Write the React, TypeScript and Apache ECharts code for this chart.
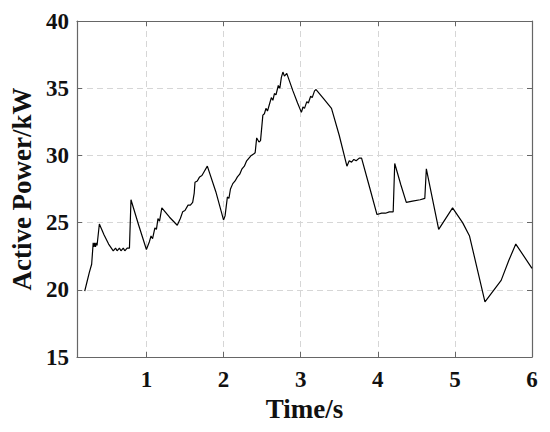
import React, { useEffect, useRef } from "react";
import * as echarts from "echarts";

const timeS: number[] = [
  0.20, 0.23, 0.26, 0.29, 0.31, 0.32, 0.33, 0.34, 0.35, 0.36, 0.39, 0.45, 0.51, 0.57,
  0.60, 0.62, 0.65, 0.67, 0.70, 0.72, 0.75, 0.78, 0.80, 0.90, 1.00, 1.04, 1.06, 1.08,
  1.11, 1.13, 1.15, 1.17, 1.20, 1.30, 1.40, 1.44, 1.47, 1.50, 1.54, 1.57, 1.60, 1.62,
  1.63, 1.66, 1.69, 1.72, 1.75, 1.79, 1.90, 2.00, 2.02, 2.05, 2.07, 2.09, 2.12, 2.15,
  2.18, 2.21, 2.24, 2.27, 2.30, 2.33, 2.36, 2.39, 2.41, 2.43, 2.46, 2.48, 2.51, 2.53,
  2.55, 2.57, 2.60, 2.62, 2.64, 2.66, 2.68, 2.71, 2.73, 2.75, 2.77, 2.79, 2.82, 2.90,
  2.96, 3.01, 3.03, 3.05, 3.08, 3.10, 3.13, 3.15, 3.18, 3.20, 3.30, 3.40, 3.50, 3.60,
  3.63, 3.66, 3.69, 3.72, 3.76, 3.79, 3.90, 3.99, 4.05, 4.10, 4.15, 4.20, 4.22, 4.30,
  4.37, 4.45, 4.55, 4.61, 4.63, 4.79, 4.97, 5.10, 5.19, 5.39, 5.60, 5.70, 5.79, 6.00,
];

const powerKW: number[] = [
  19.9, 20.6, 21.3, 21.9, 23.5, 23.2, 23.5, 23.2, 23.5, 23.3, 24.9, 24.1, 23.4, 22.9,
  23.1, 22.9, 23.1, 22.9, 23.1, 22.9, 23.1, 23.1, 26.7, 24.8, 23.0, 23.6, 24.0, 23.8,
  24.6, 24.5, 25.3, 25.1, 26.1, 25.4, 24.8, 25.3, 25.8, 25.9, 26.3, 26.3, 26.5, 27.2,
  28.0, 28.1, 28.4, 28.5, 28.8, 29.2, 27.3, 25.2, 25.5, 26.9, 26.8, 27.5, 27.9, 28.1,
  28.4, 28.6, 29.0, 29.2, 29.6, 29.8, 30.0, 30.1, 30.2, 31.3, 31.0, 31.1, 33.0, 33.1,
  33.5, 33.3, 33.9, 34.3, 34.1, 34.6, 34.5, 35.2, 35.0, 35.8, 36.2, 35.9, 36.1, 34.8,
  33.9, 33.2, 33.6, 33.5, 34.0, 33.9, 34.4, 34.3, 34.8, 34.9, 34.2, 33.5, 31.5, 29.2,
  29.6, 29.5, 29.7, 29.6, 29.8, 29.8, 27.5, 25.6, 25.7, 25.7, 25.8, 25.8, 29.4, 27.8,
  26.5, 26.6, 26.7, 26.8, 29.0, 24.5, 26.1, 25.0, 24.0, 19.1, 20.7, 22.2, 23.4, 21.6,
];

const X_MIN = 0.1;
const X_MAX = 6;
const Y_MIN = 15;
const Y_MAX = 40;
const Y_STEP = 5;

const FONT = "'Liberation Serif', 'Times New Roman', serif";

export default function App() {
  const ref = useRef<HTMLDivElement>(null);

  useEffect(() => {
    document.body.style.margin = "0";
    if (!ref.current) return;
    const chart = echarts.init(ref.current, undefined, { renderer: "svg" });
    const data = timeS.map((t, i) => [t, powerKW[i]]);
    const axisLine = { show: true, lineStyle: { color: "#666", width: 1.2 } };
    const tick = { show: true, inside: true, length: 5, lineStyle: { color: "#666" } };
    const split = { show: true, lineStyle: { color: "#d6d6d6", type: [6, 4] as any, width: 1 } };
    const intLabel = (v: number) => (Math.abs(v - Math.round(v)) < 1e-6 ? String(Math.round(v)) : "");
    chart.setOption({
      animation: false,
      backgroundColor: "#fff",
      grid: { left: 77, right: 18, top: 21, bottom: 75, containLabel: false },
      xAxis: [
        {
          type: "value",
          min: X_MIN,
          max: X_MAX,
          position: "bottom",
          name: "Time/s",
          nameLocation: "middle",
          nameGap: 38,
          nameTextStyle: { fontFamily: FONT, fontWeight: "bold", fontSize: 27, color: "#111" },
          axisLine,
          axisTick: tick,
          splitLine: split,
          axisLabel: {
            fontFamily: FONT,
            fontWeight: "bold",
            fontSize: 23,
            color: "#111",
            margin: 11,
            formatter: intLabel,
            showMinLabel: false,
          },
        },
        {
          type: "value",
          min: X_MIN,
          max: X_MAX,
          position: "top",
          axisLine,
          axisTick: tick,
          splitLine: { show: false },
          axisLabel: { show: false },
        },
      ],
      yAxis: [
        {
          type: "value",
          min: Y_MIN,
          max: Y_MAX,
          interval: Y_STEP,
          position: "left",
          name: "Active Power/kW",
          nameLocation: "middle",
          nameGap: 41,
          nameTextStyle: { fontFamily: FONT, fontWeight: "bold", fontSize: 27, color: "#111" },
          axisLine,
          axisTick: tick,
          splitLine: split,
          axisLabel: { fontFamily: FONT, fontWeight: "bold", fontSize: 23, color: "#111", margin: 8 },
        },
        {
          type: "value",
          min: Y_MIN,
          max: Y_MAX,
          interval: Y_STEP,
          position: "right",
          axisLine,
          axisTick: tick,
          splitLine: { show: false },
          axisLabel: { show: false },
        },
      ],
      series: [
        {
          type: "line",
          data,
          xAxisIndex: 0,
          yAxisIndex: 0,
          symbol: "none",
          lineStyle: { color: "#000", width: 1.2 },
        },
      ],
    });
    return () => chart.dispose();
  }, []);

  return <div ref={ref} style={{ width: 550, height: 432 }} />;
}
